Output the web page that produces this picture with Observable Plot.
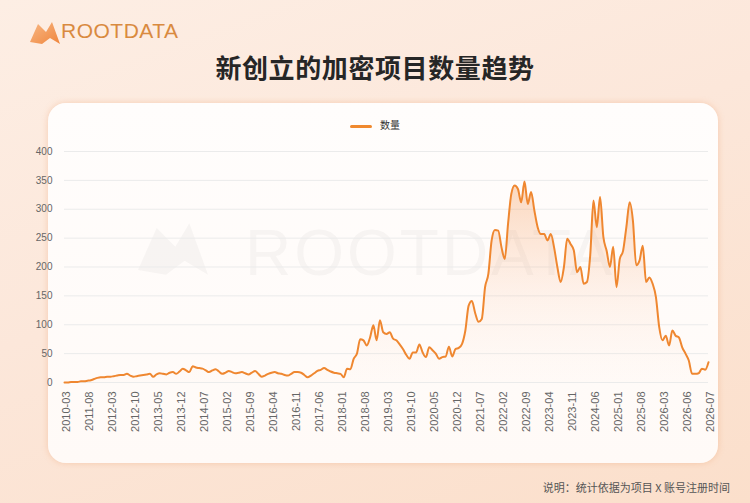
<!DOCTYPE html>
<html><head><meta charset="utf-8">
<script src="https://cdn.jsdelivr.net/npm/d3@7"></script>
<script src="https://cdn.jsdelivr.net/npm/@observablehq/plot@0.6"></script>
<style>
html,body{margin:0;padding:0;}
body{width:750px;height:503px;position:relative;overflow:hidden;
  background:linear-gradient(160deg,#fdeee4 0%,#fce7da 45%,#fbdfcb 100%);
  font-family:"Noto Sans CJK SC","Noto Sans",sans-serif;}
#logo{position:absolute;left:28px;top:18px;}
#logoText{position:absolute;left:61px;top:19px;font-family:"Liberation Sans","DejaVu Sans",sans-serif;font-size:21px;color:#d98a3f;letter-spacing:0.5px;font-weight:300;}
#title{position:absolute;left:0;width:750px;top:48px;text-align:center;font-size:26px;font-weight:700;color:#262626;letter-spacing:0.6px;}
#card{position:absolute;left:48px;top:103px;width:670px;height:360px;border-radius:18px;
  background:linear-gradient(180deg,#fffdfc 0%,#fffaf7 100%);box-shadow:0 0 6px rgba(236,150,95,0.35);}
#wm{position:absolute;left:245px;top:216px;font-family:"Liberation Sans",sans-serif;font-size:64px;color:rgba(60,60,60,0.038);letter-spacing:3px;}
#wmIcon{position:absolute;left:118px;top:214px;}
#legend{position:absolute;left:350px;top:117px;font-size:10px;color:#333;}
#legend .sw{display:inline-block;width:22px;height:3px;background:#f0892e;border-radius:2px;vertical-align:middle;margin-right:8px;}
#chart{position:absolute;left:0;top:140px;}
#note{position:absolute;right:20px;top:479px;font-size:11px;color:#555;}
</style></head>
<body>
<svg id="logo" width="34" height="30" viewBox="0 0 34 30">
  <defs><linearGradient id="lg" x1="0" y1="0" x2="1" y2="1"><stop offset="0" stop-color="#f7b27a"/><stop offset="1" stop-color="#ee7a2a"/></linearGradient></defs>
  <path d="M2 24 L10 6 L18 14 L24 4 L32 26 L22 20 L14 26 Z" fill="url(#lg)" opacity="0.9"/>
</svg>
<div id="logoText">ROOTDATA</div>
<div id="title">新创立的加密项目数量趋势</div>
<div id="card"></div>
<svg id="wmIcon" width="110" height="70" viewBox="0 0 34 30"><path d="M2 24 L10 6 L18 14 L24 4 L32 26 L22 20 L14 26 Z" fill="rgba(60,60,60,0.038)"/></svg>
<div id="wm">ROOTDATA</div>
<div id="legend"><span class="sw"></span>数量</div>
<div id="chart"></div>
<div id="note">说明：统计依据为项目 X 账号注册时间</div>
<script>
const tickLabels = ["2010-03","2011-08","2012-03","2012-10","2013-05","2013-12","2014-07","2015-02","2015-09","2016-04","2016-11","2017-06","2018-01","2018-08","2019-03","2019-10","2020-05","2020-12","2021-07","2022-02","2022-09","2023-04","2023-11","2024-06","2025-01","2025-08","2026-03","2026-06","2026-07"];
const labelStep = 7;
const counts = [
  0,0,1,1,1,2,2,3,4,6,
  8,9,9,10,10,11,12,13,13,15,
  12,10,11,12,13,14,15,10,14,16,
  15,14,17,18,15,19,24,21,18,28,
  26,25,24,21,18,21,23,19,15,17,
  20,18,16,17,18,16,14,17,20,15,
  10,12,15,17,18,16,15,13,12,15,
  18,18,17,13,9,12,16,20,22,25,
  22,19,17,16,15,9,24,23,41,50,
  75,73,64,78,99,73,108,87,84,87,
  76,73,66,58,48,41,52,52,66,52,
  44,61,56,50,41,44,45,62,45,58,
  60,67,90,133,141,120,105,110,165,188,
  246,264,263,234,214,275,327,341,335,312,
  348,309,330,298,269,257,257,246,257,234,
  200,174,200,249,240,229,191,200,171,174,
  220,315,269,321,252,228,200,235,165,214,
  228,269,312,280,203,211,237,174,182,171,
  148,96,73,81,64,90,81,78,61,50,
  38,15,15,16,24,22,35
];
const yTicks = [0,50,100,150,200,250,300,350,400];

const data = counts.map((v, i) => ({i, v}));
const xTicks = tickLabels.map((_, k) => k * labelStep);

const chart = Plot.plot({
  width: 750,
  height: 315,
  marginLeft: 64,
  marginRight: 42,
  marginTop: 11,
  marginBottom: 73,
  style: {background: "transparent", fontFamily: "Liberation Sans, DejaVu Sans, sans-serif", fontSize: "10px", color: "#666"},
  x: {domain: [0, counts.length - 1]},
  y: {domain: [0, 400]},
  marks: [
    Plot.gridY(yTicks, {stroke: "#ebebeb", strokeOpacity: 1}),
    Plot.areaY(data, {x: "i", y: "v", fill: "url(#areaGrad)", curve: "monotone-x"}),
    Plot.lineY(data, {x: "i", y: "v", stroke: "#ef8730", strokeWidth: 2, curve: "monotone-x"}),
    Plot.axisY(yTicks, {tickSize: 0, tickPadding: 12, label: null, fill: "#666"}),
    Plot.axisX(xTicks, {tickFormat: d => tickLabels[d / labelStep], tickRotate: -90, tickSize: 0, tickPadding: 9, label: null, dx: 2, fill: "#666", fontSize: 11})
  ]
});
const ns = "http://www.w3.org/2000/svg";
const defs = document.createElementNS(ns, "defs");
const g = document.createElementNS(ns, "linearGradient");
g.setAttribute("id", "areaGrad");
g.setAttribute("x1", "0"); g.setAttribute("y1", "0"); g.setAttribute("x2", "0"); g.setAttribute("y2", "1");
[["0", "#f38a3c", "0.32"], ["0.55", "#f7a370", "0.12"], ["1", "#fbd0b0", "0.02"]].forEach(([o, c, a]) => {
  const s = document.createElementNS(ns, "stop");
  s.setAttribute("offset", o); s.setAttribute("stop-color", c); s.setAttribute("stop-opacity", a);
  g.appendChild(s);
});
defs.appendChild(g);
chart.insertBefore(defs, chart.firstChild);
document.getElementById("chart").appendChild(chart);
</script>
</body></html>
